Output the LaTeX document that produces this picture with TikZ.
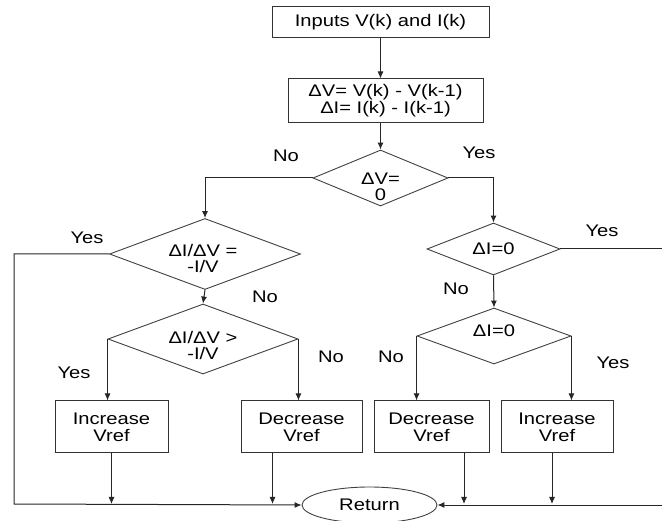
\documentclass[tikz,border=0pt]{standalone}
\usepackage{fontspec}
\setmainfont[FakeStretch=1.2]{Liberation Sans}
\usetikzlibrary{shapes.geometric,arrows.meta}
\begin{document}
\begin{tikzpicture}[x=1pt,y=-1pt,
  txt/.style={font=\fontsize{16.8}{17}\selectfont},
  line/.style={draw=black!85, line width=1pt},
  arr/.style={line, -{Latex[length=7pt,width=6pt]}},
  procbox/.style={txt, draw=black!80, line width=1pt, rectangle, inner sep=0pt, align=center},
  decision/.style={txt, draw=black!75, line width=0.9pt, diamond, inner sep=0pt, align=center},
  dtext/.style={txt, inner sep=0pt, align=center, font=\fontsize{16.8}{16}\selectfont},
  retshape/.style={txt, draw=black!75, line width=0.9pt, ellipse, inner sep=0pt},
  lab/.style={txt, inner sep=0pt}]
\useasboundingbox (0,0) rectangle (662,521);

\node[procbox, minimum width=217pt, minimum height=31pt] (inputs) at (380.5,22.5) {Inputs V(k) and I(k)};
\node[procbox, minimum width=195pt, minimum height=44pt] (delta) at (385.5,101) {ΔV= V(k) - V(k-1)\\ΔI= I(k) - I(k-1)};
\node[decision, aspect=2.4, minimum width=135pt, minimum height=56pt] (d1) at (380.5,178) {};
\node[dtext] (t1) at (380.5,187) {ΔV=\\0};
\node[decision, aspect=2.7, minimum width=191pt, minimum height=71pt] (d2) at (205,254) {};
\node[dtext] (t2) at (203,258) {ΔI/ΔV =\\-I/V};
\node[decision, aspect=2.7, minimum width=190pt, minimum height=70pt] (d3) at (203,339) {};
\node[dtext] (t3) at (203,345) {ΔI/ΔV >\\-I/V};
\node[decision, aspect=2.55, minimum width=133pt, minimum height=52pt] (d4) at (493.5,249) {ΔI=0};
\node[decision, aspect=2.75, minimum width=154pt, minimum height=56pt] (d5) at (494,336) {};
\node[dtext] (t5) at (494,331) {ΔI=0};

\node[procbox, minimum width=113pt, minimum height=52pt] (inc1) at (111.5,427) {Increase\\Vref};
\node[procbox, minimum width=121pt, minimum height=52pt] (dec1) at (301.5,427) {Decrease\\Vref};
\node[procbox, minimum width=115pt, minimum height=52pt] (dec2) at (431.5,427) {Decrease\\Vref};
\node[procbox, minimum width=112pt, minimum height=52pt] (inc2) at (557,427) {Increase\\Vref};
\node[retshape, minimum width=135pt, minimum height=36pt] (ret) at (369.5,505) {Return};

\coordinate (lx) at (14,504);
\coordinate (rx1) at (662,249);
\coordinate (rx2) at (662,505);

% labels
\node[lab] at (286,156) {No};
\node[lab] at (479,153) {Yes};
\node[lab] at (87,238) {Yes};
\node[lab] at (265,297) {No};
\node[lab] at (602,231) {Yes};
\node[lab] at (456,289) {No};
\node[lab] at (74,373) {Yes};
\node[lab] at (331,357) {No};
\node[lab] at (391,357) {No};
\node[lab] at (613,363) {Yes};

% connectors
\draw[arr] (inputs.south) -- (inputs.south |- delta.north);
\draw[arr] (d1.north |- delta.south) -- (d1.north);
\draw[arr] (d1.west) -| (d2.north);
\draw[arr] (d1.east) -| (d4.north);
\draw[arr] (d2.south) -- (d3.north);
\draw[arr] (d4.south) -- (d5.north);
\draw[line] (d4.east) -- (rx1);
\draw[arr] (d3.west) -- (d3.west |- inc1.north);
\draw[arr] (d3.east) -- (d3.east |- dec1.north);
\draw[arr] (d5.west) -- (d5.west |- dec2.north);
\draw[arr] (d5.east) -- (d5.east |- inc2.north);
\draw[arr] (d2.west) -| (lx) -- (ret.west);
\draw[arr] (rx2) -- (ret.east);
\draw[arr] (inc1.south) -- (inc1.south |- lx);
\draw[arr] ([xshift=-29pt]dec1.south) -- ([xshift=-29pt]dec1.south |- lx);
\draw[arr] ([xshift=32.5pt]dec2.south) -- ([xshift=32.5pt]dec2.south |- lx);
\draw[arr] ([xshift=-5pt]inc2.south) -- ([xshift=-5pt]inc2.south |- lx);
\end{tikzpicture}
\end{document}
